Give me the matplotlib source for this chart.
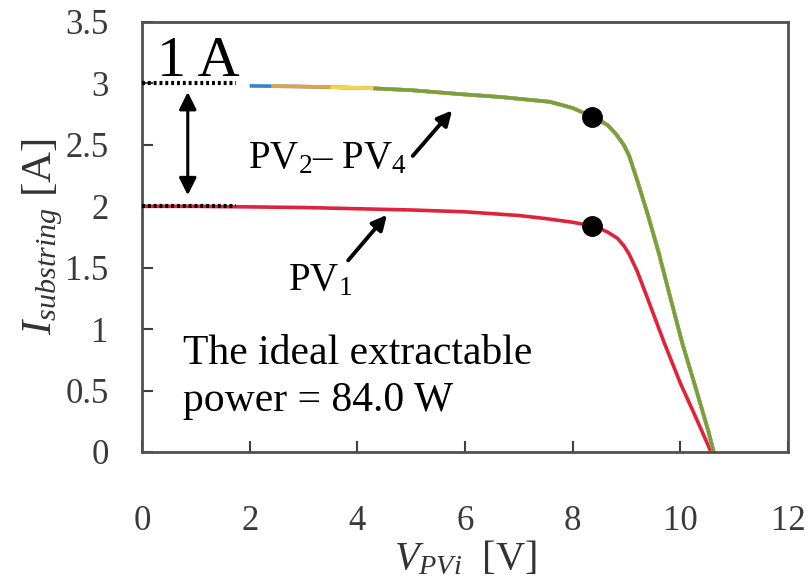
import numpy as np
import matplotlib
matplotlib.use("Agg")
import matplotlib.pyplot as plt

# I-V curves
v_pv1 = [0.0, 1.0, 2.0, 3.0, 4.0, 5.0, 6.0, 7.0, 7.5, 8.0, 8.36, 8.5, 8.65,
         8.83, 8.95, 9.05, 9.2, 9.4, 9.7, 10.0, 10.3, 10.57]
i_pv1 = [2.0, 2.0, 1.995, 1.99, 1.98, 1.97, 1.955, 1.925, 1.90, 1.87, 1.84,
         1.82, 1.79, 1.74, 1.68, 1.61, 1.47, 1.24, 0.89, 0.56, 0.27, 0.0]

v_pv24 = [2.0, 2.4, 2.9, 3.5, 4.3, 5.0, 6.0, 6.65, 7.0, 7.58, 8.0, 8.36, 8.5,
          8.65, 8.8, 8.95, 9.05, 9.2, 9.39, 9.6, 9.8, 10.04, 10.3, 10.52,
          10.62]
i_pv24 = [2.98, 2.978, 2.975, 2.97, 2.96, 2.945, 2.91, 2.89, 2.875, 2.85,
          2.80, 2.73, 2.70, 2.66, 2.59, 2.50, 2.41, 2.21, 1.94, 1.62, 1.28,
          0.88, 0.50, 0.17, 0.0]

# maximum power points
mpp_v = [8.36, 8.36]
mpp_i = [2.73, 1.84]

# colours of the overlapping PV2-PV4 traces and where each one becomes visible
seg_colors = ["#2f86c8", "#e9a13a", "#f2d64a", "#78a040"]
seg_start = [0, 1, 3, 4]

plt.rcParams["font.family"] = ["Liberation Serif", "DejaVu Serif"]
plt.rcParams["mathtext.fontset"] = "custom"
plt.rcParams["mathtext.rm"] = "Liberation Serif"
plt.rcParams["mathtext.it"] = "Liberation Serif:italic"

fig = plt.figure(figsize=(8.11, 5.82), dpi=100)
ax = fig.add_axes([142/811, 130/582, 646/811, 430/582])

ax.plot(v_pv1, i_pv1, color="#e0223c", lw=2.6, solid_capstyle="butt",
        solid_joinstyle="round")
for c, s in zip(seg_colors, seg_start):
    ax.plot(v_pv24[s:], i_pv24[s:], color=c, lw=2.6, solid_capstyle="butt",
            solid_joinstyle="round")

ax.plot(mpp_v, mpp_i, "o", color="black", ms=14, zorder=5)

# dotted guide lines at 3 A and 2 A, double arrow between them
ax.plot([0, 1.75], [3, 3], color="black", lw=3, ls=(0, (0.7, 0.7)), zorder=4)
ax.plot([0, 1.75], [2, 2], color="black", lw=3, ls=(0, (0.7, 0.7)), zorder=4)
ax.annotate("", xy=(0.85, 2.09), xytext=(0.85, 2.93),
            arrowprops=dict(arrowstyle="<|-|>", color="black", lw=2.2,
                            mutation_scale=26, shrinkA=0, shrinkB=0))
ax.text(0.28, 3.06, "1 A", fontsize=42, ha="left", va="baseline")

# curve labels
ax.text(1.97, 2.31, r"PV$_2$– PV$_4$", fontsize=28, ha="left", va="baseline")
ax.annotate("", xy=(5.76, 2.78), xytext=(5.03, 2.41),
            arrowprops=dict(arrowstyle="-|>", color="black", lw=2.8,
                            mutation_scale=22, shrinkA=0, shrinkB=0))
ax.text(2.71, 1.32, r"PV$_1$", fontsize=28, ha="left", va="baseline")
ax.annotate("", xy=(4.55, 1.93), xytext=(3.83, 1.56),
            arrowprops=dict(arrowstyle="-|>", color="black", lw=2.8,
                            mutation_scale=22, shrinkA=0, shrinkB=0))

ax.text(0.77, 0.715, "The ideal extractable", fontsize=30, va="baseline")
ax.text(0.77, 0.33, "power = 84.0 W", fontsize=30, va="baseline")

ax.set_xlim(0, 12)
ax.set_ylim(0, 3.5)
ax.set_xticks(np.arange(0, 13, 2))
ax.set_yticks(np.arange(0, 3.6, 0.5))
ax.set_yticklabels(["0", "0.5", "1", "1.5", "2", "2.5", "3", "3.5"])

ax.tick_params(direction="in", length=8, width=1.5, labelsize=25,
               labelcolor="#3a3a3a", color="#404040")
ax.tick_params(axis="y", pad=24)
ax.tick_params(axis="x", pad=38)
for sp in ax.spines.values():
    sp.set_color("#505050")
    sp.set_linewidth(2)

ax.set_xlabel(r"$V_{PVi}$  [V]", fontsize=29, color="#333333", labelpad=2)
ax.set_ylabel(r"$I_{substring}$ [A]", fontsize=31, color="#333333", labelpad=0)

fig.savefig("out.png", dpi=100)
